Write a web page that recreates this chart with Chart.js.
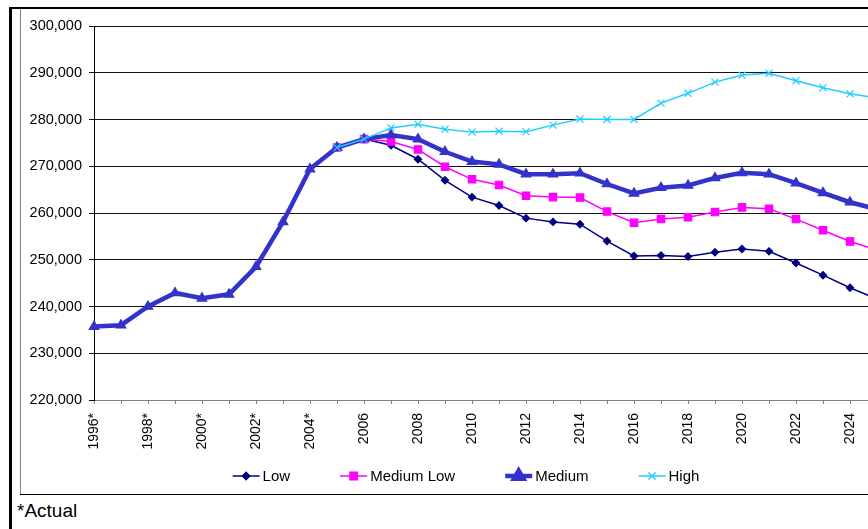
<!DOCTYPE html>
<html>
<head>
<meta charset="utf-8">
<script src="https://cdn.jsdelivr.net/npm/chart.js@4"></script>
<style>
  html, body { margin: 0; padding: 0; background: #fff; overflow: hidden; }
  body { width: 868px; height: 529px; position: relative; font-family: 'Liberation Sans', Arial, sans-serif; }
  .frame-left { position: absolute; left: 9px; top: 7px; width: 3px; height: 522px; background: #000; }
  .frame-top { position: absolute; left: 9px; top: 7px; width: 859px; height: 2px; background: #000; }
  .inner-left { position: absolute; left: 20px; top: 9px; width: 1px; height: 486px; background: #808080; }
  .inner-bottom { position: absolute; left: 20px; top: 494px; width: 848px; height: 1px; background: #000; }
  #wrap { position: absolute; left: 21px; top: 9px; width: 890px; height: 485px; }
  .note { position: absolute; left: 17px; top: 501px; font-size: 19px; line-height: 1; color: #000; }
</style>
</head>
<body>
<div class="frame-left"></div>
<div class="frame-top"></div>
<div class="inner-left"></div>
<div class="inner-bottom"></div>
<div id="wrap"><canvas id="popChart" width="890" height="485"></canvas></div>
<div class="note">*Actual</div>

<script>
'use strict';

// ---- Data ----
const yearLabels = [
  '1996*', '1997*', '1998*', '1999*', '2000*', '2001*', '2002*', '2003*', '2004*',
  '2005', '2006', '2007', '2008', '2009', '2010', '2011', '2012', '2013', '2014',
  '2015', '2016', '2017', '2018', '2019', '2020', '2021', '2022', '2023', '2024', '2025'
];

const lowSeries = [
  null, null, null, null, null, null, null, null, null,
  274000, 275800, 274500, 271500, 267000, 263400, 261600, 258900, 258100, 257600,
  254000, 250800, 250900, 250700, 251600, 252300, 251800, 249300, 246700, 244000, 241600
];

const mediumLowSeries = [
  null, null, null, null, null, null, null, null, null,
  274000, 275800, 275300, 273600, 269900, 267200, 266000, 263700, 263400, 263300,
  260300, 257900, 258700, 259100, 260200, 261200, 260900, 258700, 256300, 253900, 252100
];

const mediumSeries = [
  235700, 236000, 240000, 242900, 241750, 242600, 248500, 258100, 269400,
  274000, 275800, 276700, 275800, 273100, 271000, 270400, 268300, 268300, 268500,
  266200, 264200, 265400, 265900, 267500, 268600, 268300, 266400, 264300, 262300, 260800
];

const highSeries = [
  null, null, null, null, null, null, null, null, null,
  274000, 275800, 278200, 279000, 277900, 277300, 277500, 277400, 278800, 280100,
  280000, 280000, 283500, 285600, 288000, 289500, 289900, 288300, 286800, 285500, 284600
];

const yMin = 220000;
const yMax = 300000;
const yStep = 10000;

const FONT = "'Liberation Sans', Arial, sans-serif";
Chart.defaults.font.family = FONT;
Chart.defaults.color = '#000';

// ---- Legend drawn under the axis, Excel style (line + marker) ----
const lineLegend = {
  id: 'lineLegend',
  afterDraw(chart) {
    const ctx = chart.ctx;
    const items = chart.data.datasets;
    const segW = 27, gap = 3, itemGap = 50, fontSize = 15;
    ctx.save();
    ctx.font = fontSize + 'px ' + FONT;
    let total = 0;
    items.forEach((ds, i) => {
      total += segW + gap + ctx.measureText(ds.label).width;
      if (i < items.length - 1) total += itemGap;
    });
    let x = (chart.width - total) / 2;
    const y = 467;
    items.forEach(ds => {
      ctx.strokeStyle = ds.borderColor;
      ctx.lineWidth = ds.borderWidth;
      ctx.beginPath();
      ctx.moveTo(x, y);
      ctx.lineTo(x + segW, y);
      ctx.stroke();
      ctx.fillStyle = ds.pointBackgroundColor;
      ctx.strokeStyle = ds.pointBorderColor;
      Chart.helpers.drawPoint(ctx, {
        pointStyle: ds.pointStyle,
        radius: ds.pointRadius,
        rotation: 0,
        borderWidth: ds.pointBorderWidth
      }, x + segW / 2, y);
      ctx.fillStyle = '#000';
      ctx.textBaseline = 'middle';
      ctx.textAlign = 'left';
      ctx.fillText(ds.label, x + segW + gap, y + 1);
      x += segW + gap + ctx.measureText(ds.label).width + itemGap;
    });
    ctx.restore();
  }
};

function lineSet(label, data, color, width, style, radius, order) {
  return {
    label: label,
    data: data,
    borderColor: color,
    backgroundColor: color,
    borderWidth: width,
    pointStyle: style,
    pointRadius: radius,
    pointHoverRadius: radius,
    pointBackgroundColor: color,
    pointBorderColor: color,
    pointBorderWidth: 1.2,
    tension: 0,
    spanGaps: false,
    order: order
  };
}

const ctx = document.getElementById('popChart').getContext('2d');

new Chart(ctx, {
  type: 'line',
  data: {
    labels: yearLabels,
    datasets: [
      lineSet('Low', lowSeries, '#000080', 1.5, 'rectRot', 3.6, 4),
      lineSet('Medium Low', mediumLowSeries, '#FF00FF', 1.5, 'rect', 5.2, 3),
      lineSet('Medium', mediumSeries, '#3333CC', 4.5, 'triangle', 5.5, 2),
      lineSet('High', highSeries, '#22CCFF', 1.5, 'crossRot', 5, 1)
    ]
  },
  options: {
    responsive: false,
    animation: false,
    devicePixelRatio: 1,
    layout: { padding: { left: 0, right: 34, top: 17, bottom: 0 } },
    plugins: {
      legend: { display: false },
      tooltip: { enabled: false }
    },
    scales: {
      x: {
        offset: false,
        grid: {
          drawOnChartArea: false,
          drawTicks: true,
          tickLength: 4,
          color: '#808080'
        },
        border: { color: '#808080', width: 1 },
        ticks: {
          autoSkip: false,
          minRotation: 90,
          maxRotation: 90,
          padding: 9,
          font: { size: 14 },
          callback: function (value, index) {
            return index % 2 === 0 ? this.getLabelForValue(value) : '';
          }
        },
        afterFit(scale) { scale.height = 94; }
      },
      y: {
        min: yMin,
        max: yMax,
        grid: {
          color: '#111',
          lineWidth: 1,
          tickLength: 5
        },
        border: { color: '#000', width: 1 },
        ticks: {
          stepSize: yStep,
          padding: 7,
          font: { size: 14.5 },
          callback: v => v.toLocaleString('en-US')
        },
        afterFit(scale) { scale.width = 73; }
      }
    }
  },
  plugins: [lineLegend]
});
</script>
</body>
</html>
